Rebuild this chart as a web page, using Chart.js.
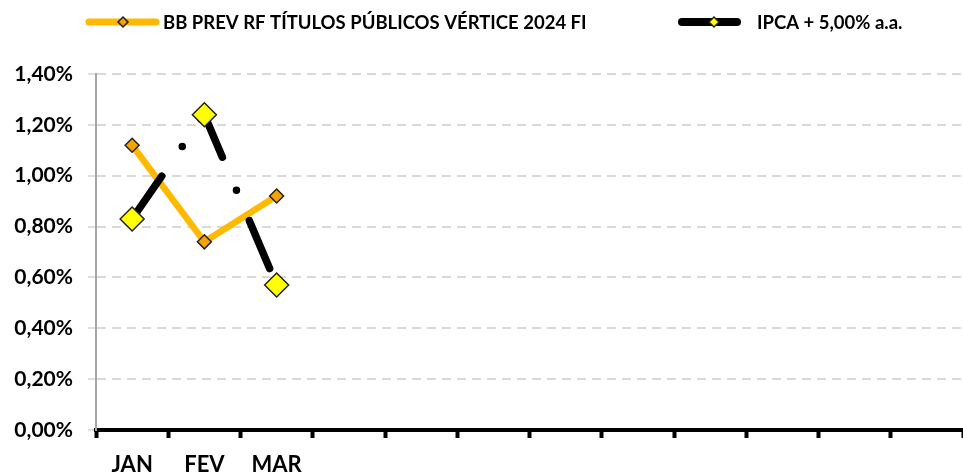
<!DOCTYPE html>
<html>
<head>
<meta charset="utf-8">
<script src="https://cdn.jsdelivr.net/npm/chart.js@4.4.1/dist/chart.umd.min.js"></script>
<style>
  html, body { margin: 0; padding: 0; background: #fff; overflow: hidden; }
  #wrap { width: 963px; height: 474px; position: relative; }
</style>
</head>
<body>
<div id="wrap"><canvas id="rentChart"></canvas></div>
<script>
// months (only Q1 filled so far)
const months = ['JAN', 'FEV', 'MAR', '', '', '', '', '', '', '', '', ''];
const fundReturns = [1.12, 0.74, 0.92];
const benchmarkReturns = [0.83, 1.24, 0.57];
const yTicks = [0, 0.2, 0.4, 0.6, 0.8, 1.0, 1.2, 1.4];

const fundName = 'BB PREV RF TÍTULOS PÚBLICOS VÉRTICE 2024 FI';
const benchName = 'IPCA + 5,00% a.a.';

const ORANGE = '#FFB900';
const ORANGE_MARK = '#F5A300';
const YELLOW = '#FFFF00';

function pct(v) {
    return v.toFixed(2).replace('.', ',') + '%';
}

function diamond(ctx, x, y, r, fill, stroke) {
    ctx.beginPath();
    ctx.moveTo(x, y - r);
    ctx.lineTo(x + r, y);
    ctx.lineTo(x, y + r);
    ctx.lineTo(x - r, y);
    ctx.closePath();
    ctx.fillStyle = fill;
    ctx.fill();
    ctx.lineWidth = 1.5;
    ctx.strokeStyle = stroke;
    ctx.stroke();
}

// legend drawn by hand to get the excel-like line samples
const topLegend = {
    id: 'topLegend',
    afterDraw(chart) {
        const ctx = chart.ctx;
        const y = 22;
        ctx.save();
        ctx.lineCap = 'round';

        ctx.strokeStyle = ORANGE;
        ctx.lineWidth = 7;
        ctx.beginPath();
        ctx.moveTo(89, y);
        ctx.lineTo(156, y);
        ctx.stroke();
        diamond(ctx, 123, y, 5, ORANGE_MARK, '#222');

        ctx.strokeStyle = '#000';
        ctx.lineWidth = 8;
        ctx.beginPath();
        ctx.moveTo(682, y);
        ctx.lineTo(737, y);
        ctx.stroke();
        diamond(ctx, 714, y, 5, YELLOW, '#222');

        ctx.fillStyle = '#000';
        ctx.font = 'bold 18.5px Lato';
        ctx.textBaseline = 'middle';
        ctx.fillText(fundName, 163, y + 1);
        ctx.fillText(benchName, 757, y + 1);
        ctx.restore();
    }
};

new Chart(document.getElementById('rentChart'), {
    type: 'line',
    data: {
        labels: months,
        datasets: [
            {
                label: fundName,
                data: fundReturns,
                borderColor: ORANGE,
                borderWidth: 6.5,
                borderJoinStyle: 'round',
                pointStyle: 'rectRot',
                pointRadius: 7,
                pointBackgroundColor: ORANGE_MARK,
                pointBorderColor: '#222',
                pointBorderWidth: 1.5,
                tension: 0,
                order: 2
            },
            {
                label: benchName,
                data: benchmarkReturns,
                borderColor: '#000',
                borderWidth: 7.5,
                borderCapStyle: 'round',
                borderDash: [52, 36, 0, 33],
                pointStyle: 'rectRot',
                pointRadius: 12,
                pointBackgroundColor: YELLOW,
                pointBorderColor: '#222',
                pointBorderWidth: 1.5,
                tension: 0,
                order: 1
            }
        ]
    },
    options: {
        responsive: true,
        maintainAspectRatio: false,
        animation: false,
        layout: { autoPadding: false, padding: { top: 74, left: 0, right: 0, bottom: 0 } },
        plugins: {
            legend: { display: false },
            tooltip: { enabled: false }
        },
        scales: {
            x: {
                offset: true,
                afterFit: s => { s.height = 44; },
                grid: {
                    offset: true,
                    drawOnChartArea: false,
                    tickLength: 8,
                    tickWidth: 4,
                    tickColor: '#000'
                },
                border: { color: '#000', width: 4 },
                ticks: {
                    color: '#000',
                    font: { family: 'Lato', size: 22, weight: 'bold' },
                    padding: 14,
                    maxRotation: 0,
                    autoSkip: false
                }
            },
            y: {
                min: 0,
                max: 1.4,
                afterFit: s => { s.width = 96; },
                afterBuildTicks: s => { s.ticks = yTicks.map(v => ({ value: v })); },
                grid: {
                    color: '#D9D9D9',
                    lineWidth: 2,
                    tickLength: 8,
                    tickWidth: 1,
                    tickColor: '#BFBFBF',
                    tickBorderDash: []
                },
                border: { color: '#A6A6A6', width: 2, dash: [9, 6] },
                ticks: {
                    color: '#000',
                    font: { family: 'Lato', size: 21, weight: 'bold' },
                    padding: 15,
                    callback: v => pct(v)
                }
            }
        }
    },
    plugins: [topLegend]
});
</script>
</body>
</html>
